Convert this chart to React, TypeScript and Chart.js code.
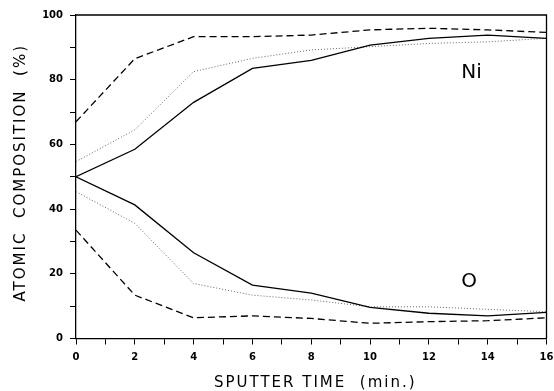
import React, { useEffect, useRef } from 'react';
import { Chart, registerables } from 'chart.js';

Chart.register(...registerables);

// Sputter time (min.)
const sputterTime = [0, 2, 4, 6, 8, 10, 12, 14, 16];

// Ni atomic composition (%)
const niSolid = [50, 58.5, 73, 83.5, 86, 90.7, 92.8, 93.8, 92.8];
const niDashed = [67, 86.5, 93.3, 93.3, 93.8, 95.4, 95.9, 95.4, 94.6];
const niDotted = [54.7, 64.5, 82.5, 86.6, 89.2, 90.2, 91.2, 91.7, 92.8];

// O atomic composition (%)
const oSolid = [50, 41.3, 26.5, 16.5, 14, 9.6, 7.8, 7, 8.1];
const oDashed = [33.5, 13.4, 6.4, 7, 6.2, 4.7, 5.2, 5.5, 6.4];
const oDotted = [45.4, 35.6, 17, 13.4, 11.9, 9.8, 9.8, 9, 8.3];

// In-plot element labels (data coordinates)
const elementNames = ['Ni', 'O'];
const elementX = [13.45, 13.37];
const elementY = [82.2, 17.6];

const xTitle = 'SPUTTER TIME  (min.)';
const yTitle = 'ATOMIC  COMPOSITION  (%)';

export default function App() {
  const canvasRef = useRef<HTMLCanvasElement>(null);

  useEffect(() => {
    const canvas = canvasRef.current;
    if (!canvas) return;
    const pts = (vals: number[]) => sputterTime.map((t, i) => ({ x: t, y: vals[i] }));

    const decor = {
      id: 'decor',
      afterDraw(chart: any) {
        const { ctx, chartArea, scales } = chart;
        ctx.save();
        // frame top & right
        ctx.strokeStyle = '#000';
        ctx.lineWidth = 1.3;
        ctx.beginPath();
        ctx.moveTo(chartArea.left, chartArea.top);
        ctx.lineTo(chartArea.right, chartArea.top);
        ctx.lineTo(chartArea.right, chartArea.bottom);
        ctx.stroke();

        // element labels
        ctx.fillStyle = '#000';
        ctx.font = '20px "DejaVu Sans"';
        ctx.textAlign = 'center';
        ctx.textBaseline = 'middle';
        elementNames.forEach((n, i) => {
          ctx.fillText(n, scales.x.getPixelForValue(elementX[i]), scales.y.getPixelForValue(elementY[i]));
        });

        // axis titles
        ctx.font = '15px "DejaVu Sans"';
        (ctx as any).letterSpacing = '2px';
        ctx.fillText(xTitle, (chartArea.left + chartArea.right) / 2 + 4, 383);
        ctx.translate(21, (chartArea.top + chartArea.bottom) / 2 - 4);
        ctx.rotate(-Math.PI / 2);
        ctx.fillText(yTitle, 0, 0);
        (ctx as any).letterSpacing = '0px';
        ctx.restore();
      },
    };

    const tickFont = { family: 'DejaVu Sans', size: 10, weight: 'bold' as const };

    const chart = new Chart(canvas, {
      type: 'line',
      data: {
        datasets: [
          { data: pts(niSolid), borderColor: '#000', borderWidth: 1.3 },
          { data: pts(niDashed), borderColor: '#000', borderWidth: 1.3, borderDash: [7, 4] },
          { data: pts(niDotted), borderColor: '#666', borderWidth: 1, borderDash: [1, 2] },
          { data: pts(oSolid), borderColor: '#000', borderWidth: 1.3 },
          { data: pts(oDashed), borderColor: '#000', borderWidth: 1.3, borderDash: [7, 4] },
          { data: pts(oDotted), borderColor: '#666', borderWidth: 1, borderDash: [1, 2] },
        ],
      },
      options: {
        responsive: false,
        devicePixelRatio: 1,
        animation: false,
        layout: { padding: { top: 15, right: 7.5, left: 0, bottom: 0 } },
        elements: { point: { radius: 0 }, line: { tension: 0, fill: false } },
        plugins: { legend: { display: false }, tooltip: { enabled: false } },
        scales: {
          x: {
            type: 'linear',
            min: 0,
            max: 16,
            afterFit: (s: any) => { s.height = 52.5; s.paddingLeft = 0; s.paddingRight = 0; },
            ticks: {
              stepSize: 1,
              autoSkip: false,
              maxRotation: 0,
              padding: 7,
              color: '#000',
              font: tickFont,
              callback: (v: any) => (Number(v) % 2 === 0 ? String(v) : ''),
            },
            grid: { drawOnChartArea: false, drawTicks: true, tickLength: 6, color: '#000', lineWidth: 1 },
            border: { display: true, color: '#000', width: 1.3 },
          },
          y: {
            type: 'linear',
            min: 0,
            max: 100,
            afterFit: (s: any) => { s.width = 76; s.paddingTop = 0; s.paddingBottom = 0; },
            ticks: {
              stepSize: 10,
              autoSkip: false,
              padding: 7,
              color: '#000',
              font: tickFont,
              callback: (v: any) => (Number(v) % 20 === 0 ? String(v) : ''),
            },
            grid: { drawOnChartArea: false, drawTicks: true, tickLength: 6, color: '#000', lineWidth: 1 },
            border: { display: true, color: '#000', width: 1.3 },
          },
        },
      },
      plugins: [decor],
    });
    return () => chart.destroy();
  }, []);

  return (
    <div style={{ position: 'fixed', left: 0, top: 0, width: 554, height: 391, background: '#fff' }}>
      <canvas ref={canvasRef} width={554} height={391} style={{ display: 'block' }} />
    </div>
  );
}
